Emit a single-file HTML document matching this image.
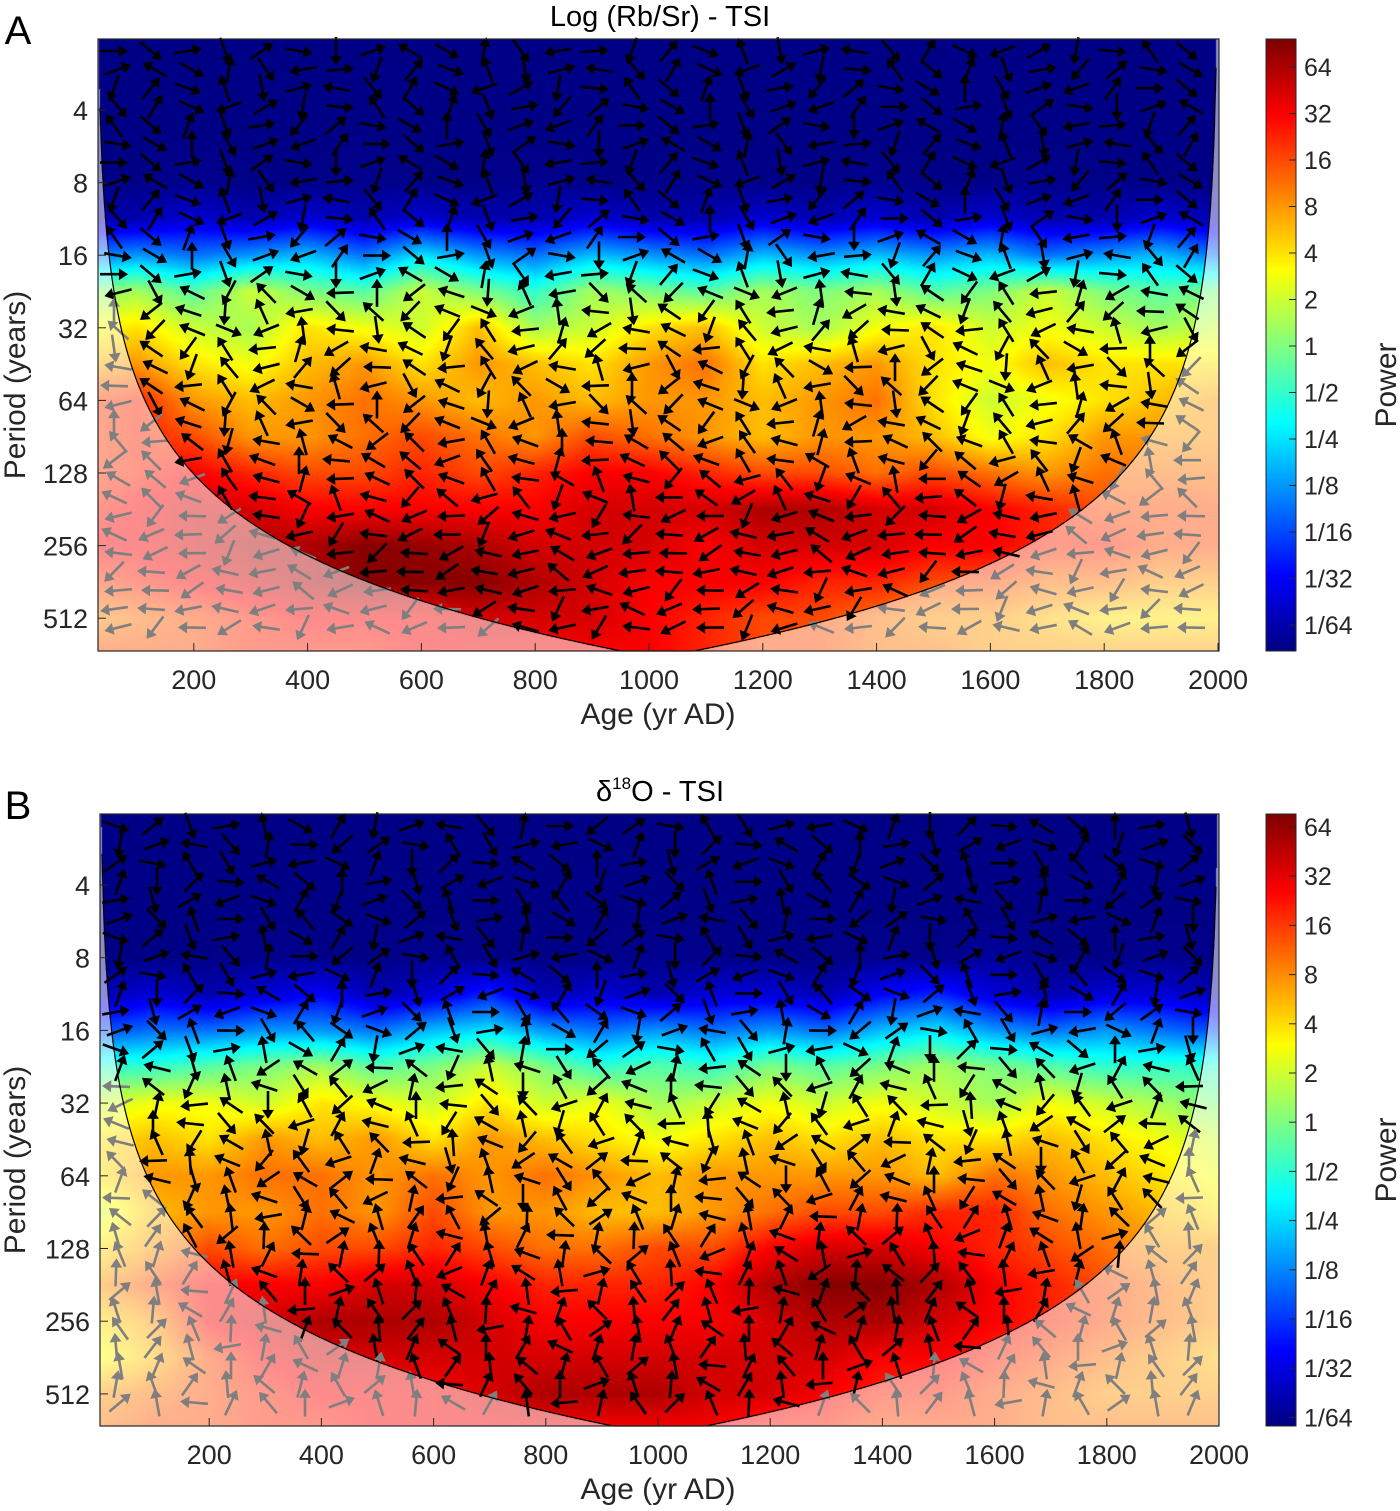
<!DOCTYPE html>
<html><head><meta charset="utf-8"><style>
html,body{margin:0;padding:0;background:#fff;}
body{width:1400px;height:1511px;position:relative;overflow:hidden;font-family:"Liberation Sans",Arial,sans-serif;}
canvas{position:absolute;}
svg{position:absolute;left:0;top:0;}
</style></head><body>
<canvas id="cA" width="1121" height="612" style="left:98px;top:39px"></canvas>
<canvas id="cB" width="1119" height="612" style="left:100px;top:814px"></canvas>
<svg id="s" width="1400" height="1511"></svg>
<script>
// ---- data: log2 power matrix, rows = log2(period) 1.0..9.5 step 0.5, cols = age 0..2000 step 100
const rowsLog2=[1,1.5,2,2.5,3,3.5,4,4.5,5,5.5,6,6.5,7,7.5,8,8.5,9,9.5];
const colsAge=[0,100,200,300,400,500,600,700,800,900,1000,1100,1200,1300,1400,1500,1600,1700,1800,1900,2000];
const powerA=[
[-6.5,-6.5,-6.5,-6.5,-6.5,-6.5,-6.5,-6.5,-6.5,-6.5,-6.5,-6.5,-6.5,-6.5,-6.5,-6.5,-6.5,-6.5,-6.5,-6.5,-6.5],
[-6.5,-6.5,-6.5,-6.5,-6.5,-6.5,-6.5,-6.5,-6.5,-6.5,-6.5,-6.5,-6.5,-6.5,-6.5,-6.5,-6.5,-6.5,-6.5,-6.5,-6.5],
[-6.5,-6.5,-6.5,-6.5,-6.5,-6.5,-6.5,-6.5,-6.5,-6.5,-6.5,-6.5,-6.5,-6.5,-6.5,-6.5,-6.5,-6.5,-6.5,-6.5,-6.5],
[-6.5,-6.5,-6.5,-6.5,-6.5,-6.5,-6.5,-6.5,-6.5,-6.5,-6.5,-6.5,-6.5,-6.5,-6.5,-6.5,-6.5,-6.5,-6.5,-6.5,-6.5],
[-6.5,-6.5,-6.4,-6.5,-6.5,-6.4,-6.5,-6.5,-6.4,-6.5,-6.5,-6.4,-6.5,-6.5,-6.4,-6.5,-6.5,-6.4,-6.5,-6.5,-6.5],
[-6,-6,-5.5,-6,-5.5,-6,-5.5,-6,-6,-5.5,-6,-6,-5.5,-6,-5.5,-6,-5.5,-6,-6,-5.5,-6],
[-3.5,-3,-3.5,-3,-2.5,-3.5,-2,-3,-3.5,-2.5,-3,-3.5,-2.5,-3,-2.5,-3,-2.5,-3.5,-3,-2.5,-3.5],
[0,0.5,-0.5,1,0,-0.5,1,0,-1,0.5,0,-0.5,0.5,0,0.5,-0.5,0,1,0,-0.5,0],
[1.5,2,1,0.5,2,1.5,1,2.5,0.5,1,2,2.5,1,0.5,1.5,2,1,1.5,1,0.5,1],
[2.5,3,2,1.5,2.5,3,2,3,2.5,2,3,3.5,2,2.5,3,2,1.5,2.5,2,2,2],
[4,4.5,3,2.5,3,3.5,3,2.5,3,2.5,3,3,2.5,3,3.5,2,1,1.5,2,2.5,3],
[4,4.5,4,3,3,3.5,4,3.5,3,4,3.5,3,2.5,3,3,2.5,1.5,2,3,3,3],
[4,4.5,5,4.5,4,4,4.5,4,4.5,5,5,4.5,4,4,3.5,4,3.5,3,3.5,3.5,3.5],
[4.5,5,5.5,5.5,5,5,5,5,5,5.5,5.5,5.5,6,6,5.5,5.5,5,4.5,4,4,4],
[5,5,5.5,6,6,6.5,6.3,6,5.5,5.5,5.5,5,5.5,5.5,5.5,5,5,4.5,4.5,4,4],
[4,4.5,5,5.5,6,6.5,6.5,6.5,6,5.5,5,5,5,4.5,4.5,4,4,3.5,3.5,3,3],
[3,3.5,4,4.5,5,5,5,5.5,5.5,5.5,5,4.5,4,4,3.5,3,3,2.5,2,2,2],
[4,4,4,4.5,4.5,4.5,5,5,5,5,5,4.5,4,4,3.5,3.5,3,3,3,3,3]];
const powerB=[
[-6.5,-6.5,-6.5,-6.5,-6.5,-6.5,-6.5,-6.5,-6.5,-6.5,-6.5,-6.5,-6.5,-6.5,-6.5,-6.5,-6.5,-6.5,-6.5,-6.5,-6.5],
[-6.5,-6.5,-6.5,-6.5,-6.5,-6.5,-6.5,-6.5,-6.5,-6.5,-6.5,-6.5,-6.5,-6.5,-6.5,-6.5,-6.5,-6.5,-6.5,-6.5,-6.5],
[-6.5,-6.5,-6.5,-6.5,-6.5,-6.5,-6.5,-6.5,-6.5,-6.5,-6.5,-6.5,-6.5,-6.5,-6.5,-6.5,-6.5,-6.5,-6.5,-6.5,-6.5],
[-6.5,-6.5,-6.5,-6.5,-6.5,-6.5,-6.5,-6.5,-6.5,-6.5,-6.5,-6.5,-6.5,-6.5,-6.5,-6.5,-6.5,-6.5,-6.5,-6.5,-6.5],
[-6.5,-6.5,-6.5,-6.4,-6.5,-6.5,-6.4,-6.5,-6.5,-6.5,-6.4,-6.5,-6.5,-6.5,-6.4,-6.5,-6.2,-6.5,-6.5,-6.4,-6.5],
[-6,-5.5,-6,-5.5,-5,-6,-5.5,-4.5,-6,-5.5,-6,-5.5,-5.5,-6,-5,-4.5,-5.5,-6,-5.5,-5.5,-6],
[-4,-3.5,-3.5,-3,-3,-3.5,-2.5,-2,-3,-3.5,-3,-3.5,-3,-3.5,-2.5,-2,-3,-3.5,-3,-3.5,-4],
[-1,-1,-0.5,0,0.5,-0.5,0,1,0,-1,-0.5,-1,0,-0.5,0,0.5,0,-0.5,-1,-1,-1],
[1,1.5,1.5,1,2,1.5,1,2,1,1.5,0.5,1,1.5,1,1.5,1,0.5,1.5,1,0.5,0],
[2,2.5,2,3,2.5,3,2,3,2.5,2,1.5,2,2.5,2,2.5,2,2,2.5,2,1.5,1],
[2,3,3,3.5,3.5,3,3.5,3,3.5,3,2.5,3,3,3,3,2.5,3.5,3,2.5,2,1.5],
[1,2.5,3,3,3.5,3,4,3,3,2.5,2.5,3,3.5,4,4,4.5,4.5,3.5,3,2.5,2],
[2,3,4,3.5,4,4,4.5,4,3.5,3.5,4,4,5,5.5,5.5,5,4.5,4,3.5,3,3],
[3,4,5,5,5,5.5,5.5,5,4.5,4.5,4.5,5,6,6.5,6.5,6,5,4.5,4,3.5,3],
[2,3,5,5.5,6,6,6,5.5,5,5,5,5,5.5,6,6,5.5,5,4.5,4,3.5,3],
[1.5,2.5,4,5,5.5,5.5,5.5,5.5,5.5,5.5,5.5,5.5,5.5,5.5,5,5,4.5,4,3.5,3,2.5],
[3,3.5,4,4.5,5,5,5,5.5,6,6,6,5.5,5.5,5,4.5,4.5,4,3.5,3,3,3],
[3.5,4,4,4.5,4.5,5,5,5,5,5,5,5,4.5,4.5,4,4,4,3.5,3.5,3.5,3.5]];
// phase angle (deg) lists; arrow at (row r, col c) uses phase[(c + r*7) % len] + bandOffset
const phaseA=[10,-30,20,-60,45,0,-80,30,160,-20,90,-45,200,15,-100,60,-10,120,-70,25,180,-40,70,-15,210,40,-90,5,135,-30,80,-60,20,-120,50,0,-20,100,-50,30,-150,65];
const phaseB=[-20,40,-70,10,100,-30,60,-100,20,170,-50,80,0,-140,35,-10,120,-60,15,190,-25,70,-90,45,-5,150,-40,90,10,-75,30,200,-20,60,-110,20,-45,110,0,-60,130,-35];
// band offsets by log2 period band: [<4.3, 4.3-6.5, 6.5-7.5, >7.5]
const bandOffA=[-10,170,150,185];
const bandOffB=[0,150,100,90];
const bandSpreadA=[1,0.8,0.5,0.3];
const bandSpreadB=[1,0.8,0.6,0.5];
</script>
<script>
const NS="http://www.w3.org/2000/svg";const svg=document.getElementById('s');
function el(t,a,p){const e=document.createElementNS(NS,t);for(const k in a)e.setAttribute(k,a[k]);(p||svg).appendChild(e);return e;}
function jet(v){const t=Math.max(0,Math.min(1,(v+6.6)/13.2));const c=x=>Math.round(255*Math.max(0,Math.min(1,1.5-Math.abs(x))));return [c(4*t-3),c(4*t-2),c(4*t-1)];}
function interp(M,lp,age){let ri=(lp-1)/0.5;ri=Math.max(0,Math.min(rowsLog2.length-1.001,ri));let ci=age/100;ci=Math.max(0,Math.min(colsAge.length-1.001,ci));
const r0=Math.floor(ri),c0=Math.floor(ci),fr=ri-r0,fc=ci-c0;
return (M[r0][c0]*(1-fc)+M[r0][c0+1]*fc)*(1-fr)+(M[r0+1][c0]*(1-fc)+M[r0+1][c0+1]*fc)*fr;}
function panel(o){
 const {M,cv,x0,y0,w,h,t0,t1,xAt0,pxPer200,y4,pxOct,title,letter,phase,bandOff,bandSpread,cbTop,cbStep,name}=o;
 const X=t=>xAt0+t*pxPer200/200, T=x=>(x-xAt0)*200/pxPer200;
 const Y=lp=>y4+(lp-2)*pxOct, LP=y=>2+(y-y4)/pxOct;
 const c=0.76;
 const coiY=t=>{const d=Math.max(0.5,Math.min(t-t0,t1-t));return Y(Math.log2(c*d));};
 const ctx=document.getElementById(cv).getContext('2d');const img=ctx.createImageData(w,h);
 for(let py=0;py<h;py++){const lp=LP(y0+py+0.5);for(let px=0;px<w;px++){const t=T(x0+px+0.5);let [r,g,b]=jet(interp(M,lp,t));
  if(y0+py>coiY(t)){r=r*0.45+255*0.55;g=g*0.45+255*0.55;b=b*0.45+255*0.55;}
  const i=(py*w+px)*4;img.data[i]=r;img.data[i+1]=g;img.data[i+2]=b;img.data[i+3]=255;}}
 ctx.putImageData(img,0,0);
 const g=el('g',{});
 const ag=el('g',{},g);
 let ri=0;
 for(let ay=y0+12;ay<y0+h-6;ay+=18.6,ri++){let ci=0;const lp=LP(ay);
  const band=lp<4.3?0:lp<6.5?1:lp<7.5?2:3;
  for(let ax=x0+16+(ri%2)*4;ax<x0+w-10;ax+=37,ci++){
  const t=T(ax);const inside=ay<coiY(t);const col=inside?'#000':'#7f7f7f';
  const ang=(phase[(ci+ri*7)%phase.length]*bandSpread[band]+bandOff[band])*Math.PI/180;
  const L=14,dx=Math.cos(ang)*L,dy=-Math.sin(ang)*L;
  const a=el('g',{},ag);
  
  
  el('line',{x1:ax-dx,y1:ay-dy,x2:ax+dx*0.5,y2:ay+dy*0.5,stroke:col,'stroke-width':2.6},a);
  const ux=dx/L,uy=dy/L,hx=ax+dx,hy=ay+dy,bx=ax+dx*0.35,by=ay+dy*0.35;
  el('polygon',{points:`${hx},${hy} ${bx-uy*6},${by+ux*6} ${bx+uy*6},${by-ux*6}`,fill:col},a);
 }}
 let d='';let first=true;for(let x=x0;x<=x0+w;x+=2){const y=coiY(T(x));if(y<y0)continue;d+=(first?'M':'L')+x+','+Math.min(y0+h,y);first=false;}
 el('path',{d,fill:'none',stroke:'#000','stroke-width':1.2,},g);
 el('rect',{x:x0,y:y0,width:w,height:h,fill:'none',stroke:'#262626','stroke-width':1.2,},g);
 for(let a=200;a<=2000;a+=200){const x=X(a);el('line',{x1:x,y1:y0+h,x2:x,y2:y0+h-8,stroke:'#262626'},g);
  const tx=el('text',{x:x,y:y0+h+38,'font-size':27,'text-anchor':'middle',fill:'#262626'},g);tx.textContent=a;
  }
 const p=[4,8,16,32,64,128,256,512];
 p.forEach(v=>{const y=Y(Math.log2(v));el('line',{x1:x0,y1:y,x2:x0+8,y2:y,stroke:'#262626'},g);
  const tx=el('text',{x:x0-10,y:y+10,'font-size':27,'text-anchor':'end',fill:'#262626'},g);tx.textContent=v;
  });
 let tx=el('text',{x:658,y:y0+h+73,'font-size':30,'text-anchor':'middle',fill:'#262626',},g);tx.textContent='Age (yr AD)';
 tx=el('text',{x:0,y:0,'font-size':30,'text-anchor':'middle',fill:'#262626',transform:`translate(25,${y0+h/2+40}) rotate(-90)`,},g);tx.textContent='Period (years)';
 tx=el('text',{x:0,y:0,'font-size':30,'text-anchor':'middle',fill:'#262626',transform:`translate(1396,${y0+h/2+40}) rotate(-90)`,},g);tx.textContent='Power';
 tx=el('text',{x:18,y:y0+5,'font-size':40,'text-anchor':'middle',fill:'#000',},g);tx.textContent=letter;
 const tt=el('text',{x:660,y:y0-13,'font-size':29,'text-anchor':'middle',fill:'#000',},g);tt.innerHTML=title;
 const cb=el('g',{},g);
 for(let i=0;i<h;i+=2){const v=6.6-13.2*i/h;const [r,gg,b]=jet(v);el('rect',{x:1266,y:y0+i,width:30,height:2.5,fill:`rgb(${r},${gg},${b})`},cb);}
 el('rect',{x:1266,y:y0,width:30,height:h,fill:'none',stroke:'#262626','stroke-width':1},cb);
 const labs=['64','32','16','8','4','2','1','1/2','1/4','1/8','1/16','1/32','1/64'];
 labs.forEach((l,i)=>{const y=cbTop+i*cbStep;el('line',{x1:1289,y1:y,x2:1296,y2:y,stroke:'#262626'},cb);
  const t=el('text',{x:1304,y:y+9,'font-size':25,fill:'#262626'},cb);t.textContent=l;
  });
}
panel({M:powerA,cv:'cA',x0:98,y0:39,w:1121,h:612,t0:30,t1:2000,xAt0:80,pxPer200:113.8,y4:110,pxOct:72.6,title:'Log (Rb/Sr) - TSI',letter:'A',phase:phaseA,bandOff:bandOffA,bandSpread:bandSpreadA,cbTop:67,cbStep:46.5,name:'panel-a'});
panel({M:powerB,cv:'cB',x0:100,y0:814,w:1119,h:612,t0:5,t1:2000,xAt0:97,pxPer200:112.2,y4:885,pxOct:72.7,title:'δ<tspan font-size="17" dy="-12">18</tspan><tspan dy="12">O - TSI</tspan>',letter:'B',phase:phaseB,bandOff:bandOffB,bandSpread:bandSpreadB,cbTop:827,cbStep:49.2,name:'panel-b'});
</script>
</body></html>
